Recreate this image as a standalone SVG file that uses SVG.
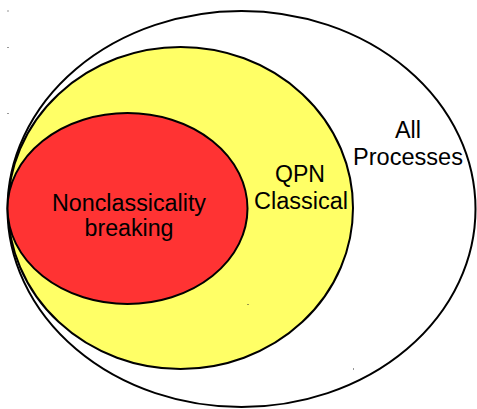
<svg xmlns="http://www.w3.org/2000/svg" width="477" height="409" viewBox="0 0 477 409">
<style>
.set{stroke:#000;stroke-width:2}
.lbl{font-family:"Liberation Sans",Arial,sans-serif;font-size:23px;fill:#000;text-anchor:middle}
.dot{fill:#333}
</style>
<rect width="477" height="409" fill="#fff"/>
<g id="all">
<ellipse class="set" cx="241.5" cy="209" rx="234" ry="198" fill="#fff"/>
<text class="lbl" x="408" y="138" textLength="26" lengthAdjust="spacingAndGlyphs">All</text>
<text class="lbl" x="408" y="165" textLength="110" lengthAdjust="spacingAndGlyphs">Processes</text>
</g>
<g id="qpn">
<ellipse class="set" cx="180.5" cy="208" rx="172.5" ry="161" fill="#ffff66"/>
<text class="lbl" x="300" y="182" textLength="50" lengthAdjust="spacingAndGlyphs">QPN</text>
<text class="lbl" x="301" y="209" textLength="94" lengthAdjust="spacingAndGlyphs">Classical</text>
</g>
<g id="ncb">
<ellipse class="set" cx="127.5" cy="208.5" rx="120" ry="95.5" fill="#ff3333"/>
<text class="lbl" x="129" y="211" textLength="154" lengthAdjust="spacingAndGlyphs">Nonclassicality</text>
<text class="lbl" x="129" y="236" textLength="89" lengthAdjust="spacingAndGlyphs">breaking</text>
</g>
<g id="connectors"/>
<g id="dots">
<rect class="dot" x="7.5" y="10.5" width="1" height="1"/>
<rect class="dot" x="7.5" y="47" width="1" height="1"/>
<rect class="dot" x="7.5" y="113" width="1" height="1"/>
<rect class="dot" x="247.5" y="304" width="1" height="1"/>
<rect class="dot" x="353" y="368.5" width="1" height="1"/>
</g>
</svg>
